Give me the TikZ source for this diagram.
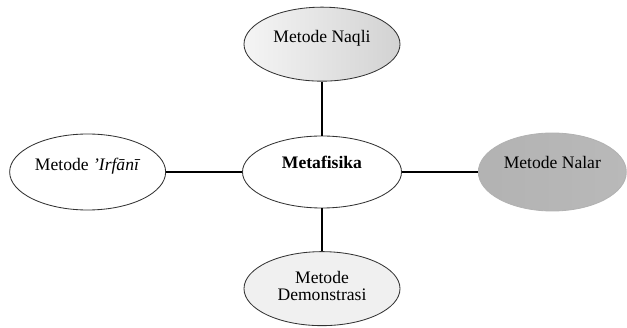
\documentclass[tikz,border=0pt]{standalone}
\usepackage{fontspec}
\setmainfont{Liberation Serif}
\usetikzlibrary{shapes,positioning}

\begin{document}
\begin{tikzpicture}[node distance=1.35cm,auto]
  \tikzstyle{method}=[ellipse,draw=black!80,line width=0.6pt,inner sep=0pt,
  			  minimum width=3.9cm,minimum height=1.85cm,
  			  font=\fontsize{12.5}{13}\selectfont,align=center]
  \tikzstyle{link}=[line width=1.4pt]
  \useasboundingbox (-8.05,-3.9) rectangle (7.625,4.3);

  \node [method,fill=white,minimum width=3.975cm,minimum height=1.8cm] (meta)
    {\raisebox{14pt}{\bfseries Metafisika}};
  \node [method,left color=gray!8,right color=gray!35] (naqli) [above=of meta]
    {\raisebox{11pt}{Metode Naqli}}
    edge [link]                                (meta);
  \node [method,fill=white,minimum height=1.9cm] (irfani) [left=1.9cm of meta]
    {\raisebox{11pt}{Metode \textit{'Irfānī}}}
    edge [link]                                (meta);
  \node [method,left color=gray!60,right color=gray!55,draw=gray!60,
    minimum width=3.7cm,minimum height=1.95cm] (nalar) [right=1.9cm of meta]
    {\raisebox{13pt}{Metode Nalar}}
    edge [link]                                (meta);
  \node [method,fill=gray!12] (demo) [below=1.07cm of meta]
    {\raisebox{7pt}{\begin{tabular}{c}Metode\\[-1pt] Demonstrasi\end{tabular}}}
    edge [link]                                (meta);
\end{tikzpicture}
\end{document}
